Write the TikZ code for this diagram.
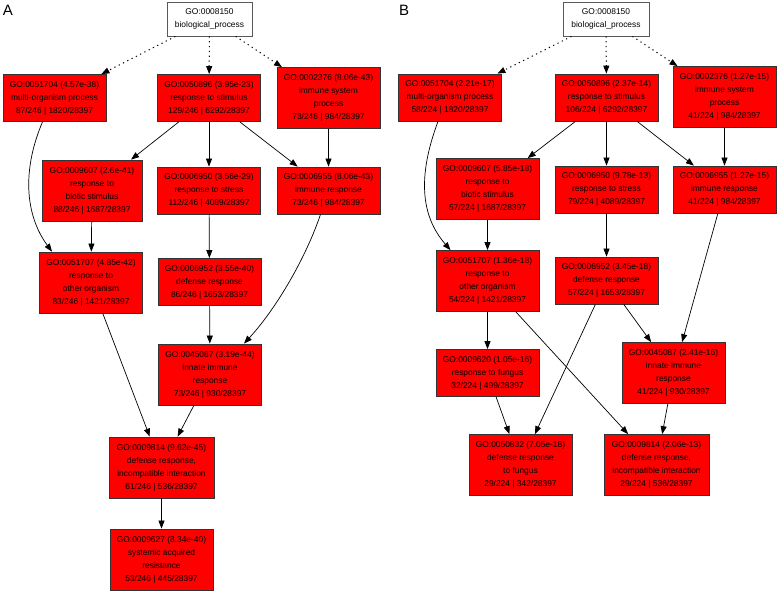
\documentclass[tikz,border=0pt]{standalone}
\usepackage{fontspec}
\setmainfont{Liberation Sans}
\usetikzlibrary{arrows.meta}
\tikzset{
  gobox/.style={draw=black!80, fill=red, line width=0.8pt, align=center,
    font=\fontsize{8.4}{13}\selectfont, minimum width=103pt, inner sep=0pt},
  rootbox/.style={gobox, fill=white, draw=black!65, minimum width=85pt, minimum height=34pt},
  hthree/.style={minimum height=47pt},
  hfour/.style={minimum height=61pt},
  edge/.style={-{Triangle[length=8pt,width=6pt]}, line width=0.7pt},
  rootedge/.style={edge, dash pattern=on 1.2pt off 3.6pt, line width=1pt},
  panellabel/.style={font=\fontsize{15}{15}\selectfont, inner sep=0pt}
}
\begin{document}
\begin{tikzpicture}[x=1pt,y=-1pt]
\useasboundingbox (0,0) rectangle (778,592);
% ---------------- Panel A ----------------
\node[panellabel] (labA) at (8,10) {A};
\node[rootbox] (aroot) at (209.5,19) {GO:0008150\\biological\_process};
\node[gobox,hthree] (a1704) at (54.5,98) {GO:0051704 (4.57e-38)\\multi-organism process\\87/246 | 1820/28397};
\node[gobox,hthree] (a0896) at (209,98) {GO:0050896 (3.95e-23)\\response to stimulus\\129/246 | 6292/28397};
\node[gobox,hfour] (a2376) at (328.5,98) {GO:0002376 (8.06e-43)\\immune system\\process\\73/246 | 984/28397};
\node[gobox,hfour,minimum width=100pt] (a9607) at (92,190.5) {GO:0009607 (2.6e-41)\\response to\\biotic stimulus\\88/246 | 1687/28397};
\node[gobox,hthree] (a6950) at (209,190.5) {GO:0006950 (3.56e-29)\\response to stress\\112/246 | 4089/28397};
\node[gobox,hthree] (a6955) at (328.5,190.5) {GO:0006955 (8.06e-43)\\immune response\\73/246 | 984/28397};
\node[gobox,hfour] (a1707) at (91,282.5) {GO:0051707 (4.85e-42)\\response to\\other organism\\83/246 | 1421/28397};
\node[gobox,hthree] (a6952) at (209.5,282) {GO:0006952 (3.55e-40)\\defense response\\86/246 | 1653/28397};
\node[gobox,hfour] (a5087) at (210,374.5) {GO:0045087 (3.19e-44)\\innate immune\\response\\73/246 | 930/28397};
\node[gobox,hfour,minimum width=105pt] (a9814) at (161.5,467.5) {GO:0009814 (9.62e-45)\\defense response,\\incompatible interaction\\61/246 | 536/28397};
\node[gobox,hfour] (a9627) at (161.5,559.5) {GO:0009627 (8.34e-40)\\systemic acquired\\resistance\\53/246 | 445/28397};

\draw[rootedge] (aroot) -- (a1704);
\draw[rootedge] (aroot) -- (a0896);
\draw[rootedge] (aroot) -- (a2376);
\draw[edge] ([xshift=-12pt]a1704.south) .. controls (22,170) and (25,215) .. ([xshift=-39pt]a1707.north);
\draw[edge] (a0896) -- (a9607);
\draw[edge] (a0896) -- (a6950);
\draw[edge] (a0896) -- (a6955);
\draw[edge] (a2376) -- (a6955);
\draw[edge] (a9607) -- (a1707);
\draw[edge] (a6950) -- (a6952);
\draw[edge] ([xshift=-8pt]a6955.south) .. controls (305,260) and (275,310) .. ([xshift=34pt]a5087.north);
\draw[edge] (a6952) -- (a5087);
\draw[edge] (a1707) -- (a9814);
\draw[edge] (a5087) -- (a9814);
\draw[edge] (a9814) -- (a9627);
% ---------------- Panel B ----------------
\node[panellabel] (labB) at (404,10) {B};
\node[rootbox,minimum width=86pt] (broot) at (606,19) {GO:0008150\\biological\_process};
\node[gobox,hthree] (b1704) at (450,97.5) {GO:0051704 (2.21e-17)\\multi-organism process\\58/224 | 1820/28397};
\node[gobox,hthree] (b0896) at (606.5,97.5) {GO:0050896 (2.37e-14)\\response to stimulus\\106/224 | 6292/28397};
\node[gobox,hfour] (b2376) at (724.5,97) {GO:0002376 (1.27e-15)\\immune system\\process\\41/224 | 984/28397};
\node[gobox,hfour] (b9607) at (487.5,189) {GO:0009607 (5.85e-18)\\response to\\biotic stimulus\\57/224 | 1687/28397};
\node[gobox,hthree] (b6950) at (606.5,189.5) {GO:0006950 (9.78e-13)\\response to stress\\79/224 | 4089/28397};
\node[gobox,hthree] (b6955) at (724.5,189.5) {GO:0006955 (1.27e-15)\\immune response\\41/224 | 984/28397};
\node[gobox,hfour] (b1707) at (487.5,281) {GO:0051707 (1.36e-18)\\response to\\other organism\\54/224 | 1421/28397};
\node[gobox,hthree] (b6952) at (606.5,280.5) {GO:0006952 (3.45e-18)\\defense response\\57/224 | 1653/28397};
\node[gobox,hthree] (b9620) at (487.5,373) {GO:0009620 (1.05e-16)\\response to fungus\\32/224 | 499/28397};
\node[gobox,hfour] (b5087) at (673.5,373) {GO:0045087 (2.41e-16)\\innate immune\\response\\41/224 | 930/28397};
\node[gobox,hfour] (b0832) at (520.5,465) {GO:0050832 (7.05e-18)\\defense response\\to fungus\\29/224 | 342/28397};
\node[gobox,hfour,minimum width=105pt] (b9814) at (656.5,465) {GO:0009814 (2.06e-13)\\defense response,\\incompatible interaction\\29/224 | 536/28397};

\draw[rootedge] (broot) -- (b1704);
\draw[rootedge] (broot) -- (b0896);
\draw[rootedge] (broot) -- (b2376);
\draw[edge] ([xshift=-12pt]b1704.south) .. controls (418,175) and (420,215) .. ([xshift=-37pt]b1707.north);
\draw[edge] (b0896) -- (b9607);
\draw[edge] (b0896) -- (b6950);
\draw[edge] (b0896) -- (b6955);
\draw[edge] (b2376) -- (b6955);
\draw[edge] (b9607) -- (b1707);
\draw[edge] (b6950) -- (b6952);
\draw[edge] (b6955) -- (b5087);
\draw[edge] (b6952) -- (b5087);
\draw[edge] (b6952) -- (b0832);
\draw[edge] (b1707) -- (b9620);
\draw[edge] (b1707) -- (b9814);
\draw[edge] (b9620) -- (b0832);
\draw[edge] (b5087) -- (b9814);
\end{tikzpicture}
\end{document}
